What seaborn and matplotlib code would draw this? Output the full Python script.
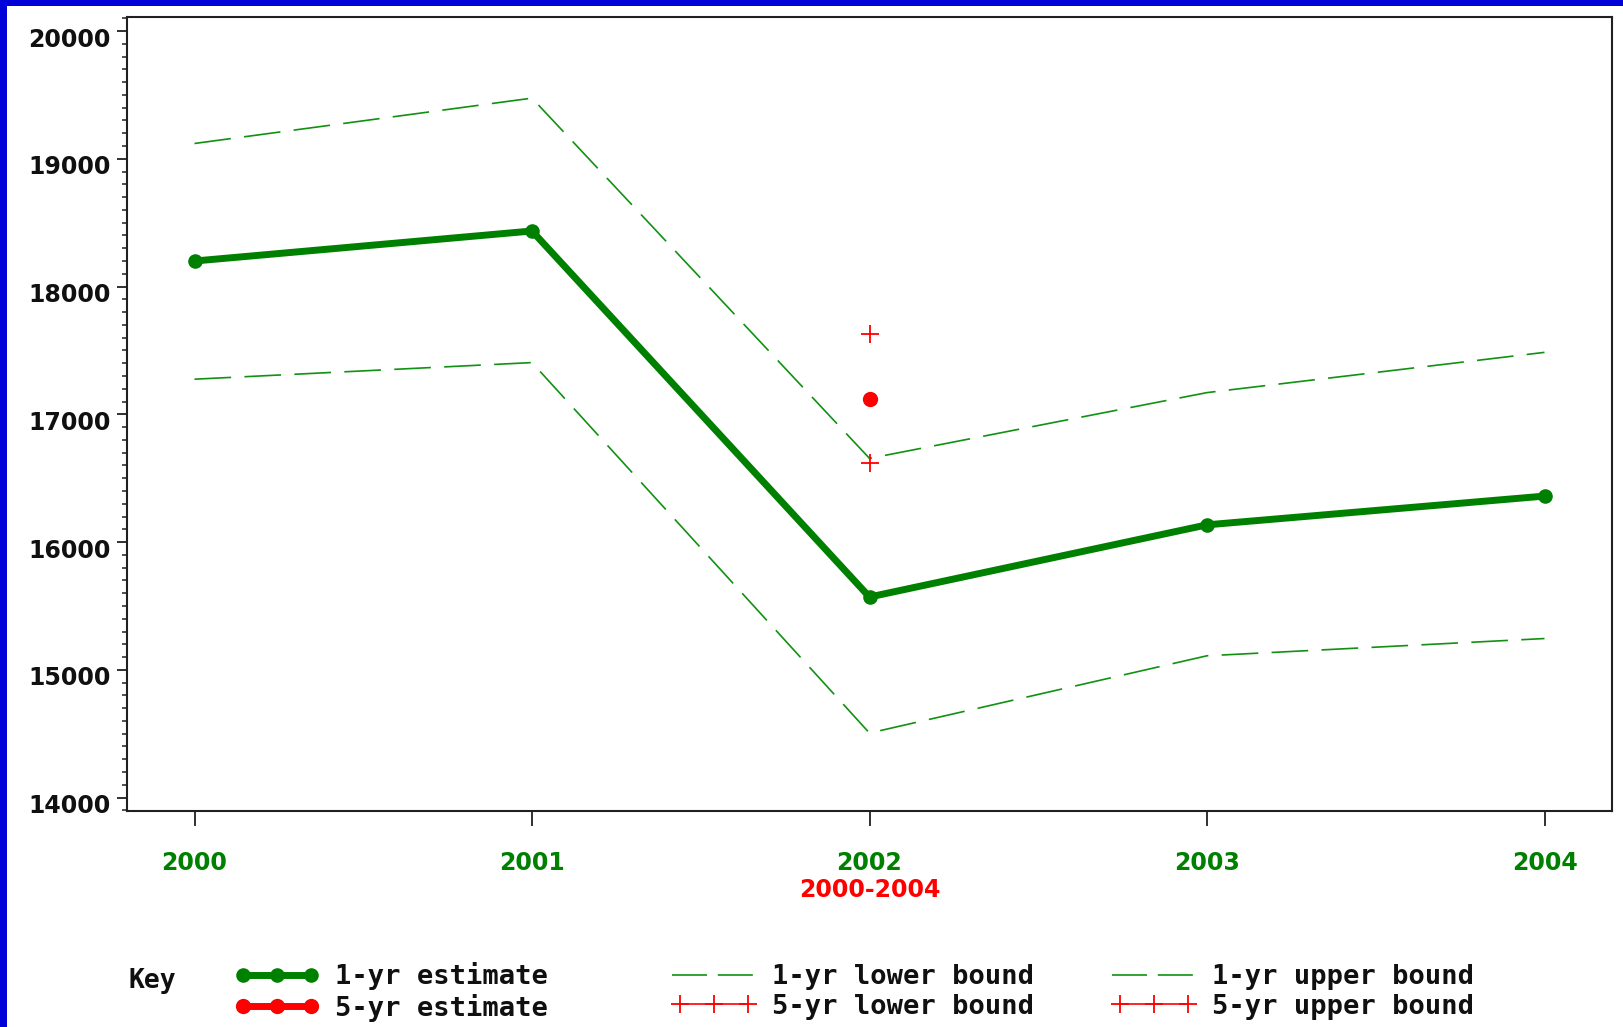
import numpy as np
import pandas as pd
import seaborn as sns
import matplotlib
matplotlib.use("Agg")
import matplotlib.pyplot as plt
from matplotlib.patches import Rectangle
from matplotlib.lines import Line2D
from matplotlib.legend_handler import HandlerLine2D
from matplotlib.ticker import MultipleLocator, FixedLocator, FuncFormatter
import matplotlib.transforms as mtransforms

# ---- data -------------------------------------------------------------
years = [2000, 2001, 2002, 2003, 2004]
est_1yr = [18200, 18435, 15570, 16135, 16360]
lower_1yr = [17275, 17405, 14505, 15110, 15245]
upper_1yr = [19120, 19475, 16655, 17170, 17485]

period_5yr_x = [2002]
period_5yr_label = "2000-2004"
est_5yr = [17120]
lower_5yr = [16620]
upper_5yr = [17625]

year_labels = ["2000", "2001", "2002", "2003", "2004"]

GREEN = "#008000"
DASH_GREEN = "#119111"
RED = "#ff0000"
BLUE = "#0000d8"

sns.set_theme(style="white")
plt.rcParams["font.family"] = ["DejaVu Sans"]

fig = plt.figure(figsize=(16.23, 10.27), dpi=100)
fig.patch.set_facecolor("white")
ax = fig.add_axes([127 / 1623, 1 - 811 / 1027, (1612 - 127) / 1623, (811 - 17) / 1027])

# blue frame on top and left edges
fig.patches.append(Rectangle((0, 1 - 6 / 1027), 1, 6 / 1027, transform=fig.transFigure,
                             facecolor=BLUE, edgecolor="none", zorder=0))
fig.patches.append(Rectangle((0, 0), 7 / 1623, 1, transform=fig.transFigure,
                             facecolor=BLUE, edgecolor="none", zorder=0))

df = pd.DataFrame({"year": years, "est": est_1yr, "lo": lower_1yr, "hi": upper_1yr})

dash = (0, (22, 8))
sns.lineplot(data=df, x="year", y="est", ax=ax, color=GREEN, linewidth=5,
             marker="o", markersize=10.5, markeredgewidth=0, label="1-yr estimate", zorder=4)
sns.lineplot(data=df, x="year", y="lo", ax=ax, color=DASH_GREEN, linewidth=1.2,
             linestyle=dash, label="1-yr lower bound", zorder=3)
sns.lineplot(data=df, x="year", y="hi", ax=ax, color=DASH_GREEN, linewidth=1.2,
             linestyle=dash, label="1-yr upper bound", zorder=3)
ax.get_legend().remove()

# 5-year period estimate and its bounds
h5e, = ax.plot(period_5yr_x, est_5yr, color=RED, linewidth=5, linestyle="-",
               marker="o", markersize=11, markeredgewidth=0, zorder=5)
h5l, = ax.plot(period_5yr_x, lower_5yr, color=RED, linewidth=1.2, linestyle="-",
               marker="+", markersize=13, markeredgewidth=1.3, zorder=5)
h5u, = ax.plot(period_5yr_x, upper_5yr, color=RED, linewidth=1.2, linestyle="-",
               marker="+", markersize=13, markeredgewidth=1.3, zorder=5)

h1e = ax.get_lines()[0]
# key swatch for the dashed bounds: two equal dashes across the full swatch
h1b = Line2D([], [], color=DASH_GREEN, linewidth=1.2, linestyle=(0, (21, 6.5)))

# ---- axes -------------------------------------------------------------
ax.set_xlim(1999.80, 2004.20)
ax.set_ylim(13895, 20110)
ax.set_xlabel("")
ax.set_ylabel("")

ax.xaxis.set_major_locator(FixedLocator(years))
ax.set_xticklabels(year_labels)
ax.yaxis.set_major_locator(MultipleLocator(1000))
ax.yaxis.set_minor_locator(MultipleLocator(100))
ax.yaxis.set_major_formatter(FuncFormatter(lambda v, p: f"{int(v)}"))

for s in ax.spines.values():
    s.set_visible(True)
    s.set_color("#202020")
    s.set_linewidth(1.5)

ax.tick_params(axis="y", which="major", direction="out", length=7, width=1.3,
               color="#202020", labelsize=17, pad=5, left=True)
ax.tick_params(axis="y", which="minor", direction="out", length=3.5, width=1.1,
               color="#202020", left=True)
ax.tick_params(axis="x", which="major", direction="out", length=11, width=1.3,
               color="#202020", labelsize=17, pad=18, bottom=True)

y_shift = mtransforms.ScaledTranslation(0, -6 / 100, fig.dpi_scale_trans)
for t in ax.get_yticklabels():
    t.set_fontweight("bold")
    t.set_color("#101010")
    t.set_transform(t.get_transform() + y_shift)
for t in ax.get_xticklabels():
    t.set_fontweight("bold")
    t.set_color(GREEN)

# period label for the 5-year estimate
trans = mtransforms.blended_transform_factory(ax.transData, fig.transFigure)
ax.text(period_5yr_x[0], 1 - 890 / 1027, period_5yr_label, transform=trans,
        ha="center", va="center", color=RED, fontsize=17, fontweight="bold")

# ---- key --------------------------------------------------------------
fig.text(128 / 1623, 1 - 981 / 1027, "Key", ha="left", va="center",
         fontsize=19, fontweight="bold", family="DejaVu Sans Mono", color="#101010")

leg_font = {"family": "DejaVu Sans Mono", "weight": "bold", "size": 19.5}
col_x = [235, 672, 1112]
columns = [((h1e, "1-yr estimate"), (h5e, "5-yr estimate")),
           ((h1b, "1-yr lower bound"), (h5l, "5-yr lower bound")),
           ((h1b, "1-yr upper bound"), (h5u, "5-yr upper bound"))]
for cx, col in zip(col_x, columns):
    hs = [c[0] for c in col]
    ls = [c[1] for c in col]
    lg = fig.legend(hs, ls, loc="center left", bbox_to_anchor=(cx / 1623, 1 - 992 / 1027),
                    frameon=False, prop=leg_font, numpoints=3, handlelength=3.1,
                    handletextpad=0.6, labelspacing=0.14, borderpad=0, borderaxespad=0,
                    handler_map={h1b: HandlerLine2D(marker_pad=0)})
    for txt in lg.get_texts():
        txt.set_color("#101010")

fig.savefig("out.png", dpi=100, facecolor="white")
